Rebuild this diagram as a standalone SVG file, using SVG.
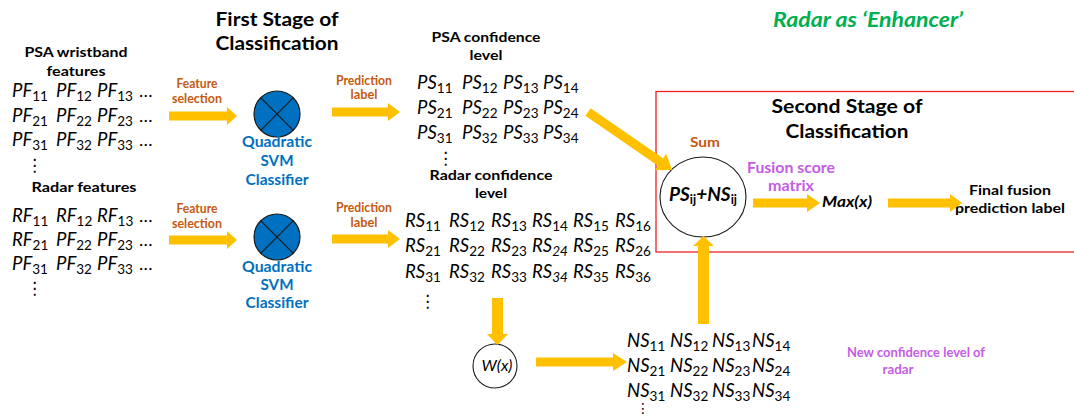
<svg xmlns="http://www.w3.org/2000/svg" width="1074" height="417" viewBox="0 0 1074 417">
<style>
text{font-family:Lato,"Liberation Sans",sans-serif;fill:#000}
.h{font-weight:bold;font-size:19px;text-anchor:middle}
.lb{font-weight:bold;font-size:14px;text-anchor:middle}
.or{font-weight:bold;font-size:12.5px;fill:#C55A11;text-anchor:middle}
.bl{font-weight:bold;font-size:15px;fill:#0070C0;text-anchor:middle}
.pu{font-weight:bold;font-size:15px;fill:#C45CE6;text-anchor:middle}
.gr{font-weight:bold;font-style:italic;font-size:20px;fill:#00B050;text-anchor:middle}
.m{font-style:italic;font-size:18.5px}
.s{font-style:normal;font-size:13.5px}
.si{font-style:italic;font-size:13.5px}
.dots{font-size:18px}
.vd{font-family:"DejaVu Sans",sans-serif;font-size:17px}
.arr{fill:#FFC000}
.ln{fill:none;stroke:#1a1a1a;stroke-width:1.2}
.clf{fill:#0070C0;stroke:#1a1a1a;stroke-width:1.2}
</style>

<!-- titles -->
<g id="title1"><text class="h" x="277" y="26" textLength="123" lengthAdjust="spacingAndGlyphs">First Stage of</text><text class="h" x="277" y="50" textLength="123" lengthAdjust="spacingAndGlyphs">Classification</text></g>
<g id="title-enh"><text class="gr" x="868" y="27" textLength="190" lengthAdjust="spacingAndGlyphs">Radar as ‘Enhancer’</text></g>

<!-- second stage box -->
<g id="stage2">
<rect x="656" y="91.5" width="430" height="160.5" fill="none" stroke="#EE2222" stroke-width="1.3"/>
<text class="h" x="847" y="113" textLength="151" lengthAdjust="spacingAndGlyphs">Second Stage of</text><text class="h" x="847" y="138" textLength="123" lengthAdjust="spacingAndGlyphs">Classification</text>
</g>

<!-- PSA features -->
<g id="psa-features">
<text class="lb" x="76" y="57" textLength="103" lengthAdjust="spacingAndGlyphs">PSA wristband</text><text class="lb" x="76" y="76" textLength="59" lengthAdjust="spacingAndGlyphs">features</text>
<text class="m" x="12" y="97">PF<tspan class="s" dy="4">11</tspan></text>
<text class="m" x="56" y="97">PF<tspan class="s" dy="4">12</tspan></text>
<text class="m" x="97" y="97">PF<tspan class="s" dy="4">13</tspan></text>
<text class="dots" x="139" y="97">…</text>
<text class="m" x="12" y="122">PF<tspan class="s" dy="4">21</tspan></text>
<text class="m" x="56" y="122">PF<tspan class="s" dy="4">22</tspan></text>
<text class="m" x="97" y="122">PF<tspan class="s" dy="4">23</tspan></text>
<text class="dots" x="139" y="122">…</text>
<text class="m" x="12" y="146">PF<tspan class="s" dy="4">31</tspan></text>
<text class="m" x="56" y="146">PF<tspan class="s" dy="4">32</tspan></text>
<text class="m" x="97" y="146">PF<tspan class="s" dy="4">33</tspan></text>
<text class="dots" x="139" y="146">…</text>
<text class="vd" x="26" y="171">⋮</text>
</g>

<!-- Radar features -->
<g id="radar-features">
<text class="lb" x="84" y="192" textLength="105" lengthAdjust="spacingAndGlyphs">Radar features</text>
<text class="m" x="12" y="222">RF<tspan class="s" dy="4">11</tspan></text>
<text class="m" x="56" y="222">RF<tspan class="s" dy="4">12</tspan></text>
<text class="m" x="97" y="222">RF<tspan class="s" dy="4">13</tspan></text>
<text class="dots" x="139" y="222">…</text>
<text class="m" x="12" y="246">RF<tspan class="s" dy="4">21</tspan></text>
<text class="m" x="56" y="246">PF<tspan class="s" dy="4">22</tspan></text>
<text class="m" x="97" y="246">PF<tspan class="s" dy="4">23</tspan></text>
<text class="dots" x="139" y="246">…</text>
<text class="m" x="12" y="270">PF<tspan class="s" dy="4">31</tspan></text>
<text class="m" x="56" y="270">PF<tspan class="s" dy="4">32</tspan></text>
<text class="m" x="97" y="270">PF<tspan class="s" dy="4">33</tspan></text>
<text class="dots" x="139" y="270">…</text>
<text class="vd" x="26" y="294">⋮</text>
</g>

<!-- classifiers -->
<g id="classifier1">
<circle class="clf" cx="277" cy="114" r="23"/>
<path class="ln" d="M260.7 97.7L293.3 130.3M293.3 97.7L260.7 130.3"/>
<text class="bl" x="277" y="147" textLength="70" lengthAdjust="spacingAndGlyphs">Quadratic</text><text class="bl" x="277" y="166" textLength="33" lengthAdjust="spacingAndGlyphs">SVM</text><text class="bl" x="277" y="185" textLength="63" lengthAdjust="spacingAndGlyphs">Classifier</text>
</g>
<g id="classifier2">
<circle class="clf" cx="277" cy="237" r="23"/>
<path class="ln" d="M260.7 220.7L293.3 253.3M293.3 220.7L260.7 253.3"/>
<text class="bl" x="277" y="272" textLength="70" lengthAdjust="spacingAndGlyphs">Quadratic</text><text class="bl" x="277" y="290" textLength="33" lengthAdjust="spacingAndGlyphs">SVM</text><text class="bl" x="277" y="308" textLength="63" lengthAdjust="spacingAndGlyphs">Classifier</text>
</g>

<!-- PSA confidence -->
<g id="psa-conf">
<text class="lb" x="486" y="42" textLength="109" lengthAdjust="spacingAndGlyphs">PSA confidence</text><text class="lb" x="486" y="60" textLength="33" lengthAdjust="spacingAndGlyphs">level</text>
<text class="m" x="417" y="89">PS<tspan class="s" dy="4">11</tspan></text>
<text class="m" x="462" y="89">PS<tspan class="s" dy="4">12</tspan></text>
<text class="m" x="503" y="89">PS<tspan class="s" dy="4">13</tspan></text>
<text class="m" x="543" y="89">PS<tspan class="s" dy="4">14</tspan></text>
<text class="m" x="417" y="114">PS<tspan class="s" dy="4">21</tspan></text>
<text class="m" x="462" y="114">PS<tspan class="s" dy="4">22</tspan></text>
<text class="m" x="503" y="114">PS<tspan class="s" dy="4">23</tspan></text>
<text class="m" x="543" y="114">PS<tspan class="s" dy="4">24</tspan></text>
<text class="m" x="417" y="139">PS<tspan class="s" dy="4">31</tspan></text>
<text class="m" x="462" y="139">PS<tspan class="s" dy="4">32</tspan></text>
<text class="m" x="503" y="139">PS<tspan class="s" dy="4">33</tspan></text>
<text class="m" x="543" y="139">PS<tspan class="s" dy="4">34</tspan></text>
<text class="vd" x="437" y="164">⋮</text>
</g>

<!-- Radar confidence -->
<g id="radar-conf">
<text class="lb" x="491" y="180" textLength="123" lengthAdjust="spacingAndGlyphs">Radar confidence</text><text class="lb" x="491" y="198" textLength="32" lengthAdjust="spacingAndGlyphs">level</text>
<text class="m" x="405" y="227">RS<tspan class="s" dy="4">11</tspan></text>
<text class="m" x="449" y="227">RS<tspan class="s" dy="4">12</tspan></text>
<text class="m" x="491" y="227">RS<tspan class="s" dy="4">13</tspan></text>
<text class="m" x="532" y="227">RS<tspan class="s" dy="4">14</tspan></text>
<text class="m" x="573" y="227">RS<tspan class="s" dy="4">15</tspan></text>
<text class="m" x="615" y="227">RS<tspan class="s" dy="4">16</tspan></text>
<text class="m" x="405" y="252">RS<tspan class="s" dy="4">21</tspan></text>
<text class="m" x="449" y="252">RS<tspan class="s" dy="4">22</tspan></text>
<text class="m" x="491" y="252">RS<tspan class="s" dy="4">23</tspan></text>
<text class="m" x="532" y="252">RS<tspan class="si" dy="4">24</tspan></text>
<text class="m" x="573" y="252">RS<tspan class="s" dy="4">25</tspan></text>
<text class="m" x="615" y="252">RS<tspan class="s" dy="4">26</tspan></text>
<text class="m" x="405" y="278">RS<tspan class="s" dy="4">31</tspan></text>
<text class="m" x="449" y="278">RS<tspan class="s" dy="4">32</tspan></text>
<text class="m" x="491" y="278">RS<tspan class="s" dy="4">33</tspan></text>
<text class="m" x="532" y="278">RS<tspan class="si" dy="4">34</tspan></text>
<text class="m" x="573" y="278">RS<tspan class="s" dy="4">35</tspan></text>
<text class="m" x="615" y="278">RS<tspan class="s" dy="4">36</tspan></text>
<text class="vd" x="419" y="307">⋮</text>
</g>

<!-- sum node -->
<g id="sum">
<text class="or" style="font-size:14px" x="705" y="147" textLength="30" lengthAdjust="spacingAndGlyphs">Sum</text>
<ellipse cx="703" cy="197" rx="43" ry="40" fill="#fff" stroke="#1a1a1a" stroke-width="1.1"/>
<text x="703" y="201" text-anchor="middle" style="font-weight:bold;font-style:italic;font-size:19px">PS<tspan style="font-size:12.5px;font-style:normal" dy="3">ij</tspan><tspan dy="-3">+NS</tspan><tspan style="font-size:12.5px;font-style:normal" dy="3">ij</tspan></text>
</g>

<g id="fusion-label"><text class="pu" x="791" y="173" textLength="88" lengthAdjust="spacingAndGlyphs">Fusion score</text><text class="pu" x="791" y="191" textLength="46" lengthAdjust="spacingAndGlyphs">matrix</text></g>
<g id="max"><text x="822" y="207" textLength="50" lengthAdjust="spacingAndGlyphs" style="font-weight:bold;font-style:italic;font-size:15px">Max(x)</text></g>
<g id="final"><text class="lb" x="1010" y="195" textLength="82" lengthAdjust="spacingAndGlyphs">Final fusion</text><text class="lb" x="1010" y="213" textLength="110" lengthAdjust="spacingAndGlyphs">prediction label</text></g>

<!-- W(x) -->
<g id="wx">
<circle cx="495" cy="366" r="22" fill="#fff" stroke="#1a1a1a" stroke-width="1.1"/>
<text x="497" y="371" text-anchor="middle" textLength="31" lengthAdjust="spacingAndGlyphs" style="font-style:italic;font-size:14.5px">W(x)</text>
</g>

<!-- NS matrix -->
<g id="ns-conf">
<text class="m" x="627" y="347">NS<tspan class="s" dy="4">11</tspan></text>
<text class="m" x="670" y="347">NS<tspan class="s" dy="4">12</tspan></text>
<text class="m" x="712" y="347">NS<tspan class="s" dy="4">13</tspan></text>
<text class="m" x="752" y="347">NS<tspan class="s" dy="4">14</tspan></text>
<text class="m" x="627" y="372">NS<tspan class="s" dy="4">21</tspan></text>
<text class="m" x="670" y="372">NS<tspan class="s" dy="4">22</tspan></text>
<text class="m" x="712" y="372">NS<tspan class="s" dy="4">23</tspan></text>
<text class="m" x="752" y="372">NS<tspan class="s" dy="4">24</tspan></text>
<text class="m" x="627" y="397">NS<tspan class="s" dy="4">31</tspan></text>
<text class="m" x="670" y="397">NS<tspan class="s" dy="4">32</tspan></text>
<text class="m" x="712" y="397">NS<tspan class="s" dy="4">33</tspan></text>
<text class="m" x="752" y="397">NS<tspan class="s" dy="4">34</tspan></text>
<text class="vd" x="636" y="413" style="font-size:14px">⋮</text>
</g>
<g id="new-conf"><text class="pu" style="font-size:14px" x="916" y="357" textLength="138" lengthAdjust="spacingAndGlyphs">New confidence level of</text><text class="pu" style="font-size:14px" x="898" y="374" textLength="31" lengthAdjust="spacingAndGlyphs">radar</text></g>

<!-- connectors -->
<g id="connectors">
<text class="or" x="197" y="88" textLength="41" lengthAdjust="spacingAndGlyphs">Feature</text><text class="or" x="197" y="103" textLength="50" lengthAdjust="spacingAndGlyphs">selection</text>
<polygon class="arr" points="169,111.5 227,111.5 227,107 237,116 227,125 227,120.5 169,120.5"/>
<text class="or" x="197" y="213" textLength="41" lengthAdjust="spacingAndGlyphs">Feature</text><text class="or" x="197" y="228" textLength="50" lengthAdjust="spacingAndGlyphs">selection</text>
<polygon class="arr" points="169,235.5 227,235.5 227,231 237,240 227,249 227,244.5 169,244.5"/>
<text class="or" x="364" y="85" textLength="56" lengthAdjust="spacingAndGlyphs">Prediction</text><text class="or" x="364" y="99" textLength="27" lengthAdjust="spacingAndGlyphs">label</text>
<polygon class="arr" points="332,107.5 388,107.5 388,103 400,112 388,121 388,116.5 332,116.5"/>
<text class="or" x="364" y="212" textLength="56" lengthAdjust="spacingAndGlyphs">Prediction</text><text class="or" x="364" y="227" textLength="27" lengthAdjust="spacingAndGlyphs">label</text>
<polygon class="arr" points="332,234.5 388,234.5 388,230 400,239 388,248 388,243.5 332,243.5"/>
<polygon class="arr" points="590.6,108.3 663.1,158.3 666.2,153.8 672,170 654.8,170.2 657.9,165.7 585.4,115.7"/>
<polygon class="arr" points="753,198.5 807,198.5 807,194 820,203 807,212 807,207.5 753,207.5"/>
<polygon class="arr" points="888,198.5 950,198.5 950,194 962,203 950,212 950,207.5 888,207.5"/>
<polygon class="arr" points="698,324 698,246 693,246 703.5,236 714,246 709,246 709,324"/>
<polygon class="arr" points="492,298 503,298 503,334 508,334 497.5,345 487,334 492,334"/>
<polygon class="arr" points="536,357.5 613,357.5 613,353 627,362 613,371 613,366.5 536,366.5"/>
</g>
</svg>
